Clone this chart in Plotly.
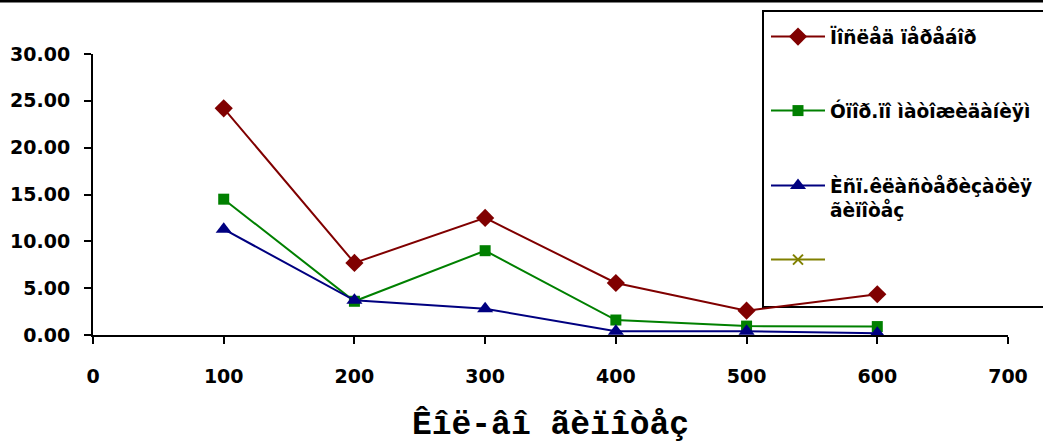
import plotly.graph_objects as go

# ---- data ----
x_vals = [100, 200, 300, 400, 500, 600]
seq_search = [24.2, 7.7, 12.5, 5.55, 2.6, 4.35]
with_matching = [14.5, 3.6, 9.0, 1.6, 0.95, 0.9]
with_clustering = [11.3, 3.7, 2.8, 0.4, 0.4, 0.2]
empty_series = [None]

names = ["Ïîñëåä ïåðåáîð", "Óïîð.ïî ìàòîæèäàíèÿì", "Èñï.êëàñòåðèçàöèÿ<br>ãèïîòåç", " "]
x_ticks = [0, 100, 200, 300, 400, 500, 600, 700]
y_ticks = [0, 5, 10, 15, 20, 25, 30]
x_title = "Êîë-âî ãèïîòåç"

W, H = 1043, 444
L, R, T, B = 93, 1008, 54, 335  # plot area in pixels

TICKFONT = dict(family="DejaVu Sans", size=19, color="black", weight="bold")
LEGFONT = dict(family="DejaVu Sans", size=18.6, color="black", weight="bold")

fig = go.Figure()
series = [
    (seq_search, "#800000", "diamond", 14),
    (with_matching, "#008000", "square", 11),
    (with_clustering, "#000080", "triangle-up", 14),
]
legend_ids = ["legend", "legend2", "legend3", "legend4"]
for i, (vals, col, sym, sz) in enumerate(series):
    fig.add_trace(go.Scatter(
        x=x_vals, y=vals, name=names[i], mode="lines+markers",
        line=dict(color=col, width=2),
        marker=dict(symbol=sym, size=sz, color=col),
        cliponaxis=False, legend=legend_ids[i],
    ))
fig.add_trace(go.Scatter(
    x=empty_series, y=empty_series, name=names[3], mode="lines+markers",
    line=dict(color="#808000", width=2),
    marker=dict(symbol="x-thin", size=10, color="#808000", line=dict(color="#808000", width=2)),
    legend="legend4", showlegend=True,
))

def py2paper(py):
    return (B - py) / (B - T)

def px2paper(px):
    return (px - L) / (R - L)

legend_tops = [18, 92, 167, 241]
leg_layout = {}
for lid, top in zip(legend_ids, legend_tops):
    leg_layout[lid] = dict(
        x=766 / W, y=1 - top / H, xref="container", yref="container",
        xanchor="left", yanchor="top", bgcolor="rgba(0,0,0,0)",
        borderwidth=0, font=LEGFONT, valign="top", itemwidth=54,
    )

fig.update_layout(
    width=W, height=H,
    margin=dict(l=L, r=W - R, t=T, b=H - B, autoexpand=False),
    paper_bgcolor="white", plot_bgcolor="white",
    xaxis=dict(
        range=[0, 700], tickvals=x_ticks, ticktext=[str(v) for v in x_ticks],
        showgrid=False, zeroline=False, showline=True, linecolor="black", linewidth=2,
        ticks="outside", ticklen=7, tickwidth=2, tickcolor="black",
        tickfont=TICKFONT, ticklabelstandoff=16,
        title=dict(text=x_title, font=dict(family="Liberation Mono", size=33, color="black", weight="bold"),
                   standoff=26),
    ),
    yaxis=dict(
        range=[0, 30], tickvals=y_ticks, tickformat=".2f",
        showgrid=False, zeroline=False, showline=True, linecolor="black", linewidth=2,
        ticks="outside", ticklen=7, tickwidth=2, tickcolor="black",
        tickfont=TICKFONT, ticklabelstandoff=10,
    ),
    xaxis2=dict(range=[0, 700], tickvals=x_ticks, overlaying="x", anchor="y",
                ticks="inside", ticklen=7, tickwidth=2, tickcolor="black",
                showticklabels=False, showgrid=False, zeroline=False, showline=False),
    yaxis2=dict(range=[0, 30], tickvals=y_ticks, overlaying="y", anchor="x",
                ticks="inside", ticklen=7, tickwidth=2, tickcolor="black",
                showticklabels=False, showgrid=False, zeroline=False, showline=False),
    showlegend=True,
    **leg_layout,
)

# chart frame top line and legend box
fig.add_shape(type="line", xref="paper", yref="paper",
              x0=px2paper(-5), x1=px2paper(W + 5), y0=py2paper(1), y1=py2paper(1),
              line=dict(color="black", width=3), layer="below")
fig.add_shape(type="rect", xref="paper", yref="paper",
              x0=px2paper(763), x1=px2paper(W + 10), y0=py2paper(11), y1=py2paper(307),
              line=dict(color="black", width=2), fillcolor="rgba(0,0,0,0)", layer="below")

fig.write_html("out.html", config={"displayModeBar": False},
               post_script="document.body.style.margin='0';")
